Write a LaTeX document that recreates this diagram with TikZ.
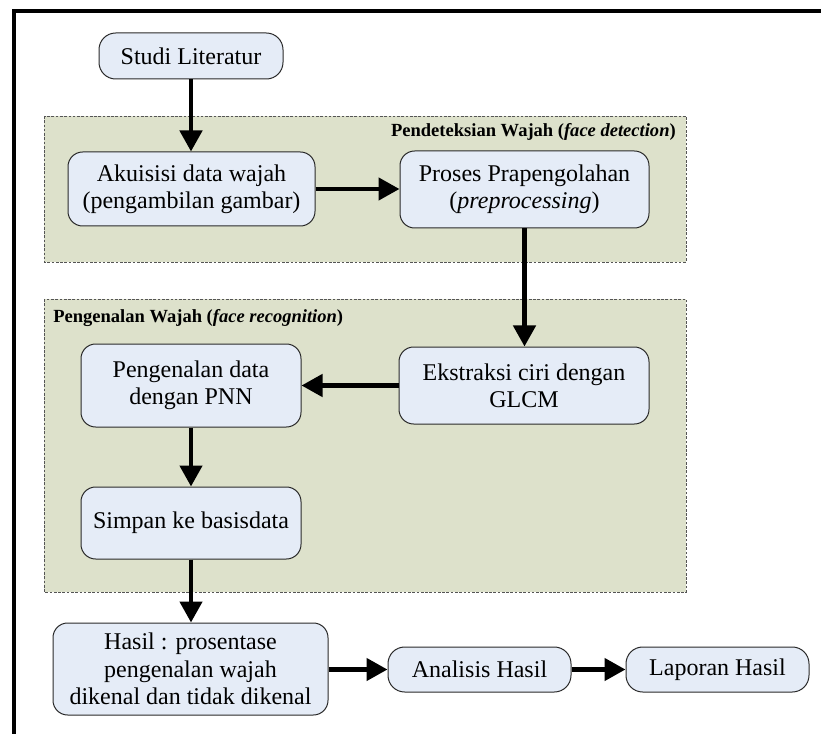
\documentclass[tikz,border=0pt]{standalone}
\usepackage{fontspec}
\setmainfont{Liberation Serif}
\usetikzlibrary{arrows.meta}
\definecolor{boxfill}{HTML}{E5ECF7}
\definecolor{groupfill}{HTML}{DDE1CB}
\definecolor{groupline}{HTML}{555555}
\definecolor{boxline}{HTML}{2A2A2A}
\tikzset{
  stepbox/.style={draw=boxline, line width=0.75pt, fill=boxfill,
    rounded corners=11pt, inner sep=0pt, align=center,
    font=\fontsize{18}{20.5}\selectfont},
  pillbox/.style={stepbox, rounded corners=12.5pt},
  groupbox/.style={draw=groupline, fill=groupfill, line width=0.6pt,
    dash pattern=on 2pt off 1.2pt},
  grouplabel/.style={inner sep=0pt, font=\fontsize{13.9}{16}\selectfont\bfseries},
  flow/.style={line width=3.4pt,
    -{Triangle[length=15.75pt, width=16.5pt]}},
}
\begin{document}
\begin{tikzpicture}[x=0.75pt, y=-0.75pt]
\useasboundingbox (0,0) rectangle (821,734);

% outer frame (top and left edges)
\draw[line width=2.3pt] (821,11) -- (14,11) -- (14,734);

% process groups
\draw[groupbox] (44,116) rectangle (686,262);
\draw[groupbox] (44,299) rectangle (686,592);
\node[grouplabel, anchor=east] (gdet) at (676,132)
  {Pendeteksian Wajah (\textit{face detection})};
\node[grouplabel, anchor=west] (grec) at (53,318)
  {Pengenalan Wajah (\textit{face recognition})};

% steps
\node[pillbox, minimum width=138pt, minimum height=34.5pt] (studi) at (191,56)
  {Studi Literatur};
\node[stepbox, minimum width=185.25pt, minimum height=55.5pt] (akuisisi) at (191.5,189)
  {Akuisisi data wajah\\(pengambilan gambar)};
\node[stepbox, minimum width=186.75pt, minimum height=57.75pt] (proses) at (524.5,189.5)
  {Proses Prapengolahan\\(\textit{preprocessing})};
\node[stepbox, minimum width=187.5pt, minimum height=57.75pt] (ekstraksi) at (524,385.5)
  {Ekstraksi ciri dengan\\GLCM};
\node[stepbox, minimum width=165pt, minimum height=62.25pt] (pnn) at (191,385.5)
  {Pengenalan data\\dengan PNN};
\node[stepbox, minimum width=165pt, minimum height=54pt] (simpan) at (191,523)
  {Simpan ke basisdata};
\node[stepbox, minimum width=206.25pt, minimum height=69pt] (hasil) at (190.5,669)
  {Hasil : prosentase\\pengenalan wajah\\dikenal dan tidak dikenal};
\node[pillbox, minimum width=137.25pt, minimum height=33.75pt] (analisis) at (479.5,669.5)
  {Analisis Hasil};
\node[pillbox, minimum width=137.25pt, minimum height=33.75pt] (laporan) at (717.5,669.5)
  {Laporan Hasil};

% flow
\draw[flow] (studi.south) -- (studi.south |- akuisisi.north);
\draw[flow] (akuisisi.east) -- (akuisisi.east -| proses.west);
\draw[flow] (proses.south) -- (proses.south |- ekstraksi.north);
\draw[flow] (ekstraksi.west) -- (ekstraksi.west -| pnn.east);
\draw[flow] (pnn.south) -- (pnn.south |- simpan.north);
\draw[flow] (simpan.south) -- (simpan.south |- hasil.north);
\draw[flow] (hasil.east |- analisis.west) -- (analisis.west);
\draw[flow] (analisis.east) -- (laporan.west);
\end{tikzpicture}
\end{document}
